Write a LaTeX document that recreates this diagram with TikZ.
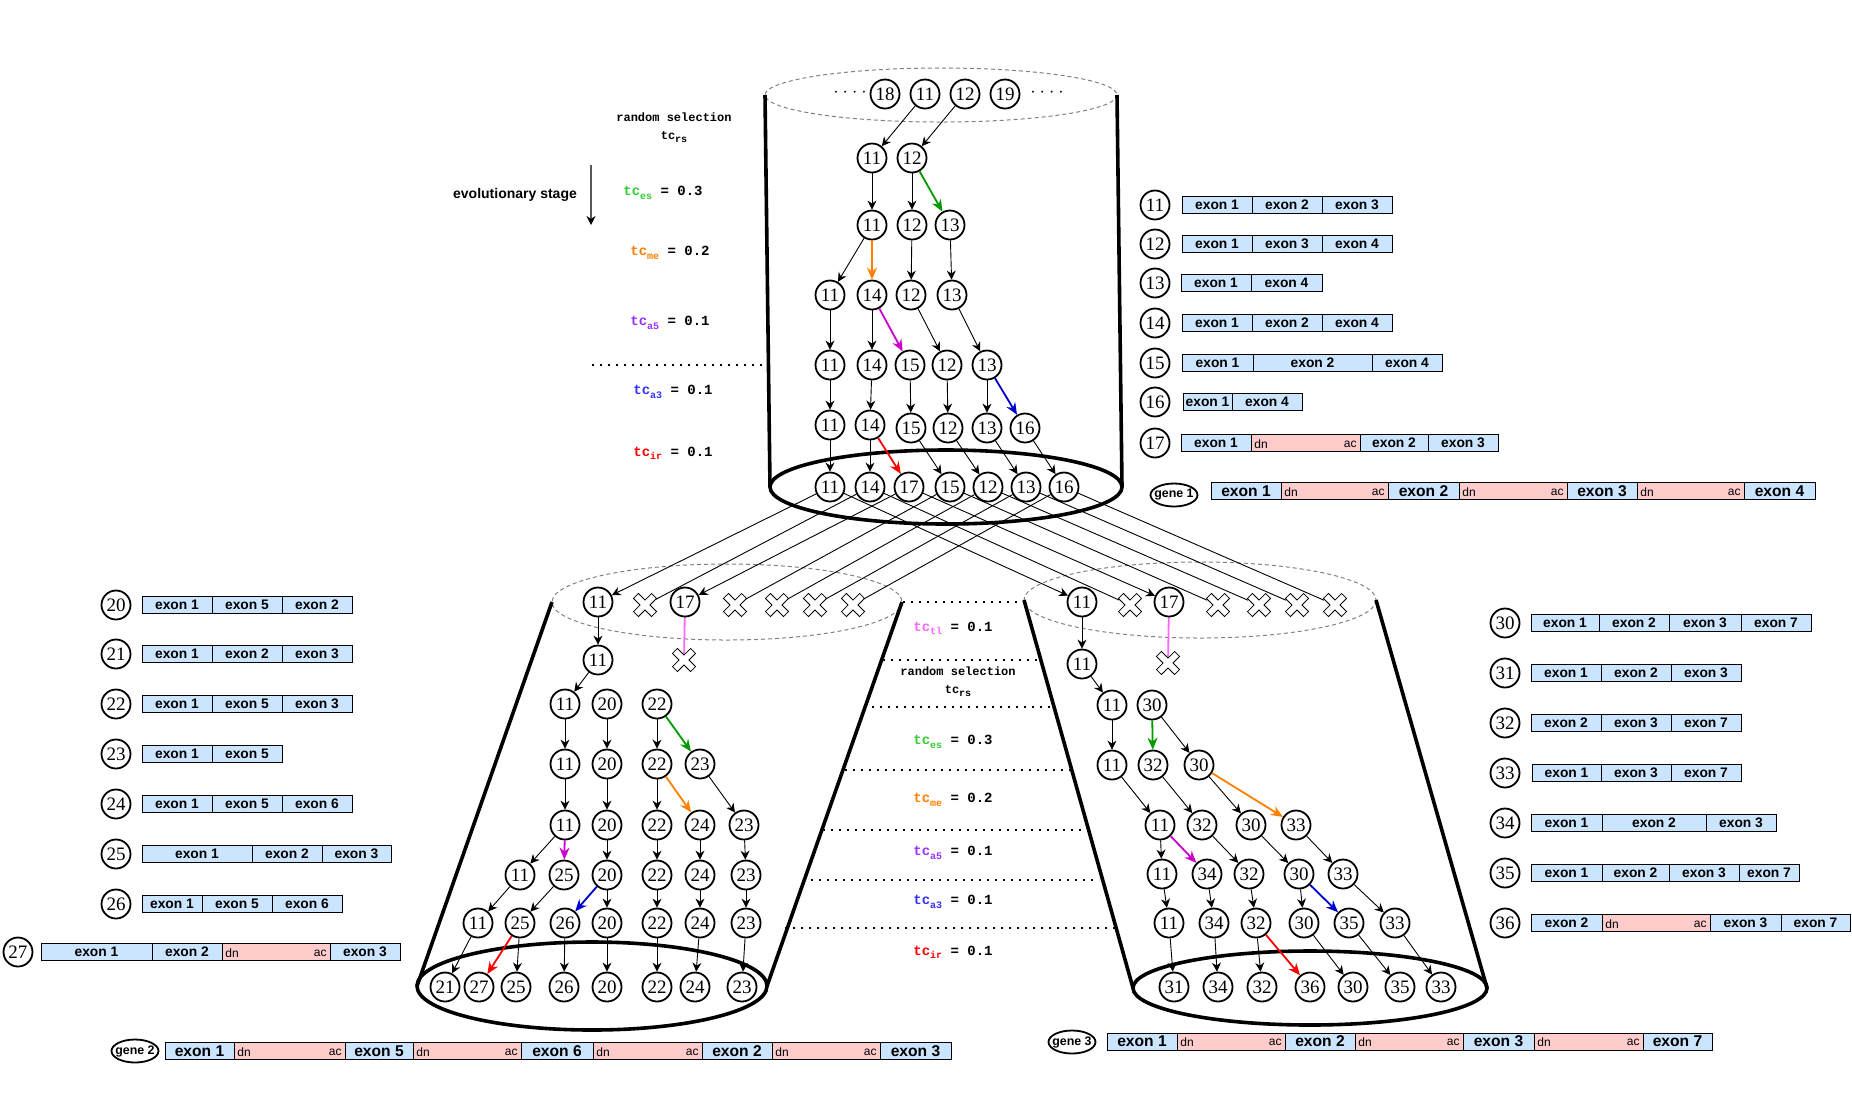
\documentclass[tikz,border=0pt]{standalone}
\usepackage{fontspec}
\setmainfont{Liberation Serif}
\setsansfont{Liberation Sans}
\setmonofont{Liberation Mono}
\usetikzlibrary{arrows.meta,shapes.geometric}

\definecolor{exonblue}{HTML}{CCE5FF}
\definecolor{intronpink}{HTML}{FFCCCC}
\definecolor{esgreen}{HTML}{009900}
\definecolor{estext}{HTML}{33CC33}
\definecolor{meorange}{HTML}{FF8000}
\definecolor{a5text}{HTML}{9933FF}
\definecolor{a5arrow}{HTML}{CC00CC}
\definecolor{a3text}{HTML}{3333FF}
\definecolor{a3arrow}{HTML}{0000CC}
\definecolor{irred}{HTML}{FF0000}
\definecolor{tlpink}{HTML}{FF66FF}

\tikzset{
  x=0.5pt, y=-0.5pt,
  gn/.style={circle, draw, fill=white, line width=0.9pt, minimum size=14.5pt, inner sep=0pt, font=\fontsize{9.5}{10}\selectfont},
  xnode/.style={circle, minimum size=11.5pt, inner sep=0pt},
  link/.style={-{Stealth[length=4.5pt,width=4.5pt]}, line width=0.45pt},
  mut/.style={-{Stealth[length=6pt,width=5pt]}, line width=0.9pt},
  wall/.style={line width=1.8pt},
  rim/.style={gray, dash pattern=on 2pt off 1.5pt, line width=0.5pt},
  stagesep/.style={line width=0.8pt, dash pattern=on 0.8pt off 3.2pt},
  exonbox/.style={draw, fill=exonblue, line width=0.5pt},
  intronbox/.style={draw, fill=intronpink, line width=0.5pt},
  exonfont/.style={font=\sffamily\bfseries\fontsize{6.9}{8}\selectfont},
  genefont/.style={font=\sffamily\bfseries\fontsize{7.8}{8}\selectfont},
  dnac/.style={font=\sffamily\fontsize{6}{7}\selectfont, inner sep=1.5pt},
  tclabel/.style={font=\ttfamily\bfseries\fontsize{7}{8}\selectfont},
  rslabel/.style={font=\ttfamily\bfseries\fontsize{6}{9}\selectfont, align=center},
  genell/.style={ellipse, draw, line width=0.9pt, minimum width=23.5pt, minimum height=11.5pt,
    inner xsep=-2pt, inner ysep=0pt, font=\sffamily\bfseries\fontsize{6.2}{7}\selectfont},
}

% coloured rate label: colour, subscript, value
\newcommand{\tcval}[3]{{\color{#1}tc\raisebox{-0.45ex}{\fontsize{5}{6}\selectfont #2}} = #3}
\newcommand{\randsel}{random selection\\tc\raisebox{-0.45ex}{\fontsize{5}{6}\selectfont rs}}
% exon bar: [font style]{y}{x1/x2/label,...}
\newcommand{\exons}[3][exonfont]{%
  \foreach \xa/\xb/\lb in {#3}
    {\draw[exonbox] (\xa,#2-8.5) rectangle (\xb,#2+8.5) node[midway,#1] {\lb};}}
% intron: {y}{x1}{x2}
\newcommand{\intron}[3]{%
  \draw[intronbox] (#2,#1-8.5) rectangle (#3,#1+8.5);
  \node[dnac, anchor=west] at (#2,#1+1) {dn};
  \node[dnac, anchor=east] at (#3,#1+1) {ac};}
% white cross drawn on a named node
\newcommand{\xmark}[1]{%
  \draw[fill=white, line width=0.4pt, shift={(#1.center)}, rotate=45]
    (-1.75pt,-6.4pt) -- (1.75pt,-6.4pt) -- (1.75pt,-1.75pt) -- (6.4pt,-1.75pt)
    -- (6.4pt,1.75pt) -- (1.75pt,1.75pt) -- (1.75pt,6.4pt) -- (-1.75pt,6.4pt)
    -- (-1.75pt,1.75pt) -- (-6.4pt,1.75pt) -- (-6.4pt,-1.75pt) -- (-1.75pt,-1.75pt) -- cycle;}

\begin{document}
\begin{tikzpicture}
\useasboundingbox (0,0) rectangle (1852,1105);

% cylinders
\draw[rim] (941,95) ellipse [x radius=176, y radius=27];
\draw[wall] (765,95) -- (770,487);
\draw[wall] (1117,95) -- (1122,487);
\draw[wall] (946,487) ellipse [x radius=176, y radius=37];

\draw[rim] (727,602) ellipse [x radius=175, y radius=38];
\draw[wall] (552,602) -- (417,986);
\draw[wall] (902,602) -- (767,986);
\draw[wall] (592,986) ellipse [x radius=175, y radius=44];

\draw[rim] (1200,600) ellipse [x radius=176, y radius=38];
\draw[wall] (1024,600) -- (1133,988);
\draw[wall] (1376,600) -- (1487,988);
\draw[wall] (1310,988) ellipse [x radius=177, y radius=37];

% stage separators
\draw[stagesep] (592,365) -- (763,365);
\draw[stagesep] (903,602) -- (1023,602);
\draw[stagesep] (883,660) -- (1041,660);
\draw[stagesep] (872,707) -- (1053,707);
\draw[stagesep] (845,770) -- (1072,770);
\draw[stagesep] (823,830) -- (1086,830);
\draw[stagesep] (803,880) -- (1099,880);
\draw[stagesep] (785,928) -- (1116,928);

% stage labels, top
\node[rslabel] (rsA) at (674,128) {\randsel};
\node[font=\sffamily\bfseries\fontsize{7}{8}\selectfont] (evo) at (515,195) {evolutionary stage};
\coordinate (evoA) at (591,165);
\coordinate (evoB) at (591,225);
\draw[gray!70!black, line width=0.6pt, -{Stealth[black,length=4.5pt,width=4.5pt]}] (evoA) -- (evoB);
\node[tclabel] (esA) at (663,193) {\tcval{estext}{es}{0.3}};
\node[tclabel] (meA) at (670,253) {\tcval{meorange}{me}{0.2}};
\node[tclabel] (a5A) at (670,323) {\tcval{a5text}{a5}{0.1}};
\node[tclabel] (a3A) at (673,392) {\tcval{a3text}{a3}{0.1}};
\node[tclabel] (irA) at (673,453) {\tcval{irred}{ir}{0.1}};

% stage labels, middle
\node[tclabel] (tlB) at (953,628) {\tcval{tlpink}{tl}{0.1}};
\node[rslabel] (rsB) at (958,682) {\randsel};
\node[tclabel] (esB) at (953,742) {\tcval{estext}{es}{0.3}};
\node[tclabel] (meB) at (953,800) {\tcval{meorange}{me}{0.2}};
\node[tclabel] (a5B) at (953,853) {\tcval{a5text}{a5}{0.1}};
\node[tclabel] (a3B) at (953,902) {\tcval{a3text}{a3}{0.1}};
\node[tclabel] (irB) at (953,952) {\tcval{irred}{ir}{0.1}};

% deleted transcripts
\foreach \nm/\x/\y in {L02/645/605, L04/735/605, L05/777/605, L06/815/605, L07/853/605, Lcut/684/660,
                       R02/1130/605, R04/1218/605, R05/1259/605, R06/1297/605, R07/1335/605, Rcut/1168/663}
  \node[xnode] (\nm) at (\x,\y) {};

% top cylinder
\node[font=\fontsize{8}{9}\selectfont] (Tdl) at (850,94) {· · · ·};
\node[font=\fontsize{8}{9}\selectfont] (Tdr) at (1047,94) {· · · ·};
\foreach \n/\x/\lb in {1/885/18, 2/925/11, 3/965/12, 4/1005/19}
  \node[gn] (T0\n) at (\x,94) {\lb};
\foreach \n/\x/\lb in {1/872/11, 2/912/12}
  \node[gn] (T1\n) at (\x,158) {\lb};
\foreach \n/\x/\lb in {1/872/11, 2/912/12, 3/950/13}
  \node[gn] (T2\n) at (\x,225) {\lb};
\foreach \n/\x/\lb in {1/830/11, 2/872/14, 3/911/12, 4/952/13}
  \node[gn] (T3\n) at (\x,295) {\lb};
\foreach \n/\x/\lb in {1/830/11, 2/872/14, 3/910/15, 4/947/12, 5/987/13}
  \node[gn] (T4\n) at (\x,365) {\lb};
\foreach \n/\x/\y/\lb in {1/830/425/11, 2/870/425/14, 3/911/428/15, 4/948/428/12, 5/987/428/13, 6/1025/428/16}
  \node[gn] (T5\n) at (\x,\y) {\lb};
\foreach \n/\x/\lb in {1/830/11, 2/870/14, 3/909/17, 4/950/15, 5/988/12, 6/1026/13, 7/1064/16}
  \node[gn] (T6\n) at (\x,487) {\lb};

\foreach \a/\b in {T02/T11, T03/T12, T11/T21, T12/T22, T21/T31, T22/T33, T23/T34,
                   T31/T41, T32/T42, T33/T44, T34/T45, T41/T51, T42/T52, T43/T53, T44/T54, T45/T55,
                   T51/T61, T52/T62, T53/T64, T54/T65, T55/T66, T56/T67}
  \draw[link] (\a) -- (\b);
\draw[mut, esgreen] (T12) -- (T23);
\draw[mut, meorange] (T21) -- (T32);
\draw[mut, a5arrow] (T32) -- (T43);
\draw[mut, a3arrow] (T45) -- (T56);
\draw[mut, irred] (T52) -- (T63);

% hand-over to genes 2 and 3
\draw[tlpink, line width=0.9pt] (685,602) -- (Lcut.center);
\draw[tlpink, line width=0.9pt] (1169,602) -- (Rcut.center);
\foreach \nm in {L02, L04, L05, L06, L07, Lcut, R02, R04, R05, R06, R07, Rcut}
  {\xmark{\nm}}

% left cylinder
\node[gn] (L01) at (598,602) {11};
\node[gn] (L03) at (685,602) {17};
\node[gn] (L11) at (598,660) {11};
\foreach \n/\x/\lb in {1/565/11, 2/607/20, 3/657/22}
  \node[gn] (L2\n) at (\x,704) {\lb};
\foreach \n/\x/\lb in {1/565/11, 2/607/20, 3/657/22, 4/700/23}
  \node[gn] (L3\n) at (\x,764) {\lb};
\foreach \n/\x/\lb in {1/565/11, 2/607/20, 3/657/22, 4/700/24, 5/744/23}
  \node[gn] (L4\n) at (\x,825) {\lb};
\foreach \n/\x/\lb in {1/520/11, 2/564/25, 3/607/20, 4/657/22, 5/700/24, 6/746/23}
  \node[gn] (L5\n) at (\x,875) {\lb};
\foreach \n/\x/\lb in {1/478/11, 2/520/25, 3/565/26, 4/607/20, 5/657/22, 6/700/24, 7/746/23}
  \node[gn] (L6\n) at (\x,923) {\lb};
\foreach \n/\x/\lb in {1/445/21, 2/479/27, 3/516/25, 4/564/26, 5/607/20, 6/657/22, 7/695/24, 8/742/23}
  \node[gn] (L7\n) at (\x,987) {\lb};

\foreach \a/\b in {L01/L11, L11/L21, L21/L31, L22/L32, L23/L33, L31/L41, L32/L42, L33/L43, L34/L45,
                   L41/L51, L42/L53, L43/L54, L44/L55, L45/L56,
                   L51/L61, L52/L62, L53/L64, L54/L65, L55/L66, L56/L67,
                   L61/L71, L62/L73, L63/L74, L64/L75, L65/L76, L66/L77, L67/L78}
  \draw[link] (\a) -- (\b);
\draw[mut, esgreen] (L23) -- (L34);
\draw[mut, meorange] (L33) -- (L44);
\draw[mut, a5arrow] (L41) -- (L52);
\draw[mut, a3arrow] (L53) -- (L63);
\draw[mut, irred] (L62) -- (L72);

% right cylinder
\node[gn] (R01) at (1082,602) {11};
\node[gn] (R03) at (1169,602) {17};
\node[gn] (R11) at (1082,664) {11};
\foreach \n/\x/\lb in {1/1112/11, 2/1152/30}
  \node[gn] (R2\n) at (\x,705) {\lb};
\foreach \n/\x/\lb in {1/1112/11, 2/1153/32, 3/1199/30}
  \node[gn] (R3\n) at (\x,765) {\lb};
\foreach \n/\x/\lb in {1/1160/11, 2/1202/32, 3/1251/30, 4/1296/33}
  \node[gn] (R4\n) at (\x,825) {\lb};
\foreach \n/\x/\lb in {1/1162/11, 2/1207/34, 3/1249/32, 4/1299/30, 5/1343/33}
  \node[gn] (R5\n) at (\x,874) {\lb};
\foreach \n/\x/\lb in {1/1169/11, 2/1214/34, 3/1256/32, 4/1304/30, 5/1349/35, 6/1395/33}
  \node[gn] (R6\n) at (\x,923) {\lb};
\foreach \n/\x/\lb in {1/1174/31, 2/1218/34, 3/1262/32, 4/1310/36, 5/1353/30, 6/1400/35, 7/1441/33}
  \node[gn] (R7\n) at (\x,987) {\lb};

\foreach \a/\b in {R01/R11, R11/R21, R21/R31, R22/R33, R31/R41, R32/R42, R33/R43,
                   R41/R51, R42/R53, R43/R54, R44/R55,
                   R51/R61, R52/R62, R53/R63, R54/R64, R55/R66,
                   R61/R71, R62/R72, R63/R73, R64/R75, R65/R76, R66/R77}
  \draw[link] (\a) -- (\b);
\draw[mut, esgreen] (R22) -- (R32);
\draw[mut, meorange] (R33) -- (R44);
\draw[mut, a5arrow] (R41) -- (R52);
\draw[mut, a3arrow] (R54) -- (R65);
\draw[mut, irred] (R63) -- (R74);

% crossing lines from gene 1 pool
\foreach \s/\d in {T61/L01, T63/L03, T61/R01, T63/R03}
  \draw[link] (\s) -- (\d);
\foreach \s/\d in {T62/L02, T64/L04, T65/L05, T66/L06, T67/L07, T62/R02, T64/R04, T65/R05, T66/R06, T67/R07}
  \draw[line width=0.45pt] (\s) -- (\d);

% legend gene 1
\foreach \lb/\y in {11/205, 12/244, 13/283, 14/323, 15/363, 16/402, 17/443}
  \node[gn] (key\lb) at (1155,\y) {\lb};
\exons{205}{1182/1252/exon 1, 1252/1322/exon 2, 1322/1392/exon 3}
\exons{244}{1182/1252/exon 1, 1252/1322/exon 3, 1322/1392/exon 4}
\exons{283}{1181/1251/exon 1, 1251/1322/exon 4}
\exons{323}{1182/1252/exon 1, 1252/1322/exon 2, 1322/1392/exon 4}
\exons{363}{1182/1253/exon 1, 1253/1372/exon 2, 1372/1442/exon 4}
\exons{402}{1183/1232/exon 1, 1232/1302/exon 4}
\exons{443}{1181/1251/exon 1, 1360/1428/exon 2, 1428/1498/exon 3}
\intron{443}{1251}{1360}

\node[genell] (gene1) at (1174,495) {gene 1};
\exons[genefont]{491}{1211/1281/exon 1, 1388/1459/exon 2, 1567/1637/exon 3, 1744/1815/exon 4}
\intron{491}{1281}{1388}
\intron{491}{1459}{1567}
\intron{491}{1637}{1744}

% legend gene 2
\foreach \lb/\y in {20/605, 21/654, 22/704, 23/754, 24/804, 25/854, 26/904}
  \node[gn] (key\lb) at (116,\y) {\lb};
\node[gn] (key27) at (18,952) {27};
\exons{605}{142/212/exon 1, 212/282/exon 5, 282/352/exon 2}
\exons{654}{142/212/exon 1, 212/282/exon 2, 282/352/exon 3}
\exons{704}{142/212/exon 1, 212/282/exon 5, 282/352/exon 3}
\exons{754}{142/212/exon 1, 212/282/exon 5}
\exons{804}{142/212/exon 1, 212/282/exon 5, 282/352/exon 6}
\exons{854}{142/252/exon 1, 252/322/exon 2, 322/391/exon 3}
\exons{904}{142/202/exon 1, 202/272/exon 5, 272/342/exon 6}
\exons{952}{41/152/exon 1, 152/222/exon 2, 330/400/exon 3}
\intron{952}{222}{330}

\node[genell] (gene2) at (135,1051) {gene 2};
\exons[genefont]{1051}{165/234/exon 1, 345/413/exon 5, 521/593/exon 6, 702/772/exon 2, 880/951/exon 3}
\intron{1051}{234}{345}
\intron{1051}{413}{521}
\intron{1051}{593}{702}
\intron{1051}{772}{880}

% legend gene 3
\foreach \lb/\y in {30/623, 31/673, 32/723, 33/773, 34/823, 35/873, 36/923}
  \node[gn] (key\lb) at (1505,\y) {\lb};
\exons{623}{1531/1599/exon 1, 1599/1669/exon 2, 1669/1741/exon 3, 1741/1811/exon 7}
\exons{673}{1531/1601/exon 1, 1601/1671/exon 2, 1671/1741/exon 3}
\exons{723}{1531/1601/exon 2, 1601/1671/exon 3, 1671/1741/exon 7}
\exons{773}{1532/1601/exon 1, 1601/1671/exon 3, 1671/1741/exon 7}
\exons{823}{1531/1602/exon 1, 1602/1706/exon 2, 1706/1776/exon 3}
\exons{873}{1531/1602/exon 1, 1602/1669/exon 2, 1669/1739/exon 3, 1739/1799/exon 7}
\exons{923}{1531/1602/exon 2, 1710/1781/exon 3, 1781/1850/exon 7}
\intron{923}{1602}{1710}

\node[genell] (gene3) at (1072,1042) {gene 3};
\exons[genefont]{1041.5}{1107/1177/exon 1, 1285/1355/exon 2, 1463/1534/exon 3, 1643/1712/exon 7}
\intron{1041.5}{1177}{1285}
\intron{1041.5}{1355}{1463}
\intron{1041.5}{1534}{1643}

\end{tikzpicture}
\end{document}
